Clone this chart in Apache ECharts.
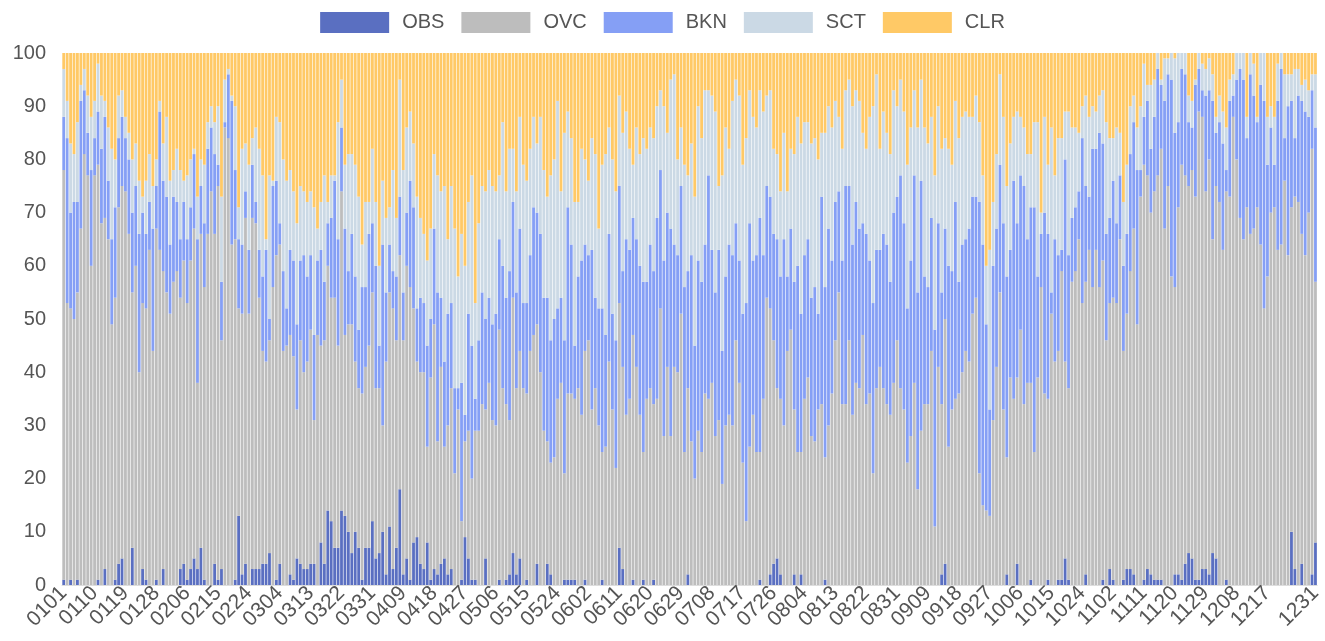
<!DOCTYPE html>
<html><head><meta charset="utf-8">
<script src="https://cdn.jsdelivr.net/npm/echarts@6/dist/echarts.min.js"></script>
<style>html,body{margin:0;padding:0;background:#fff}#c{width:1325px;height:641px}</style>
</head><body><div id="c"></div>
<script>
// categories: every day of a leap year, MMDD
const monthLengths = [31,29,31,30,31,30,31,31,30,31,30,31];
const categories = [];
monthLengths.forEach((n, m) => { for (let d = 1; d <= n; d++) categories.push(String(m+1).padStart(2,'0') + String(d).padStart(2,'0')); });

const seriesNames = ['OBS','OVC','BKN','SCT','CLR'];

const OBS = [
1,0,1,0,1,0,0,0,0,0, 1,0,3,0,0,1,4,5,0,0, 7,0,0,3,1,0,0,1,0,3,
0,0,0,0,3,4,1,3,5,3, 7,1,0,0,4,1,3,0,0,0, 1,13,2,4,0,3,3,3,4,4, 6,
0,1,4,0,0,2,1,5,4,3, 3,4,4,0,8,4,14,12,7,7, 14,13,10,6,10,7,1,7,7,12,
5,6,10,2,11,3,7,18,2,5, 1,8,9,4,3,8,1,3,2,4, 5,2,3,0,0,1,9,5,1,1,
0,0,5,0,0,0,1,0,1,2, 6,2,5,0,1,0,0,4,0,0, 4,2,0,0,0,1,1,1,1,0,
0,1,0,0,0,0,1,0,0,0, 0,7,3,0,0,1,0,0,1,0, 0,1,0,0,0,0,0,0,0,0,
0,2,0,0,0,0,0,0,0,0, 0,0,0,0,0,0,0,0,0,0, 0,0,1,0,0,2,4,5,2,
0,0,0,2,0,2,0,0,0,0, 0,0,1,0,0,0,0,0,0,0, 0,0,0,0,0,0,0,0,0,0, 0,
0,0,0,0,0,0,0,0,0,0, 0,0,0,0,0,2,4,0,0,0, 0,0,0,0,0,0,0,0,0,0,
0,0,0,0,2,0,0,4,0,0, 0,1,0,0,0,0,1,0,0,1, 1,5,1,0,0,0,0,2,0,0,
0,0,1,0,3,1,0,0,1,3, 3,2,0,0,1,3,2,1,1,1, 0,0,0,2,2,1,4,6,5,1,
1,3,3,2,6,5,0,0,1,0, 0,0,0,0,0,0,0,0,0,0, 0,0,0,0,0,0,0,10,3,0, 4,0,0,2,8
];
const OVC = [
77,53,51,50,54,67,81,77,60,77, 78,68,66,65,49,53,67,70,74,66, 48,60,40,50,51,63,44,66,63,56,
55,51,57,59,51,57,52,58,62,35, 59,55,66,74,62,74,43,86,84,64, 64,39,49,65,51,66,65,51,40,38, 40,
56,61,60,44,45,45,42,28,42,37, 39,44,27,47,37,42,46,42,47,38, 60,34,39,43,32,30,35,34,38,43,
32,31,20,40,44,49,39,44,44,55, 55,44,33,36,37,18,38,46,25,37, 21,28,34,21,33,11,18,24,19,28,
29,34,28,38,31,30,47,37,33,29, 48,35,39,37,35,44,47,45,40,29, 23,21,24,35,38,20,35,35,34,37,
32,43,46,33,37,30,24,26,42,33, 22,46,38,32,35,46,41,32,24,35, 37,33,35,52,28,41,28,41,40,51,
25,35,27,20,29,25,36,35,38,28, 31,19,30,32,30,46,38,23,12,26, 32,25,24,35,54,50,42,32,33,
30,44,48,31,25,23,35,39,28,27, 33,34,23,30,36,46,55,34,34,46, 32,38,37,47,34,36,21,37,41,37, 34,
32,38,46,37,33,23,28,38,18,29, 34,34,44,11,41,32,46,26,33,35, 36,40,44,42,51,54,21,15,14,13,
31,41,55,33,22,39,35,35,48,34, 38,37,25,39,56,36,34,51,42,43, 58,37,36,57,59,65,53,55,63,56,
63,56,60,46,50,53,53,65,43,48, 56,65,49,73,78,74,68,73,76,81, 67,75,58,54,69,78,73,69,73,72,
88,85,71,78,59,70,72,63,73,73, 88,80,69,65,71,66,67,71,64,52, 58,70,71,63,64,76,62,61,70,72, 62,62,70,80,49
];
const BKN = [
10,31,18,22,17,24,12,8,18,7, 10,14,19,11,16,17,13,13,10,14, 15,15,26,17,14,9,23,8,26,17,
18,13,16,13,11,11,12,10,14,27, 9,12,16,12,15,4,11,1,12,27, 13,13,13,5,12,10,4,9,14,21, 4,
19,14,4,15,7,16,18,16,15,22, 16,14,16,14,18,11,8,15,22,20, 12,20,10,17,16,11,20,15,21,13,
23,8,34,13,9,7,12,11,9,10, 20,19,10,14,13,19,11,18,28,13, 16,21,16,16,4,26,5,22,25,6,
17,21,17,16,18,21,17,23,20,28, 18,18,23,16,17,18,24,21,26,25, 27,23,26,17,16,25,35,28,10,21,
29,20,16,30,17,22,27,21,24,18, 24,22,18,33,28,22,24,28,32,22, 27,25,34,26,33,29,39,23,22,24,
31,22,35,25,32,32,28,42,25,27, 32,25,28,32,32,22,23,28,41,42, 29,37,44,27,21,21,20,28,23,
35,14,19,24,35,26,27,26,26,29, 18,39,32,37,25,26,19,27,41,29, 32,34,30,21,32,25,32,26,22,29, 30,
25,32,27,40,35,29,33,39,37,47, 24,22,25,37,27,21,17,34,26,37, 21,24,21,25,22,19,51,49,35,20,
29,26,24,35,34,24,41,29,29,41, 27,33,46,19,10,34,31,4,23,18, 4,38,25,12,12,9,31,18,10,26,
19,29,22,20,16,22,15,12,16,15, 22,20,29,5,9,14,12,14,20,12, 24,21,37,29,16,18,19,12,8,21,
8,5,18,13,26,10,15,20,4,18, 4,15,28,30,13,30,25,16,30,39, 21,16,8,28,33,8,28,20,11,20, 25,27,18,11,29
];
const SCT = [
9,7,13,9,15,3,4,7,10,7, 9,10,3,10,17,9,8,5,4,5, 10,8,10,3,10,9,8,5,2,7,
15,12,5,10,13,4,12,9,1,8, 5,11,5,4,6,11,16,8,1,1, 12,6,18,9,16,5,14,19,19,2, 27,
1,12,19,21,24,15,13,19,14,12, 14,12,24,6,9,20,4,8,1,22, 9,12,22,15,21,25,8,16,6,14,
12,15,12,14,7,19,11,22,23,16, 13,12,21,15,13,16,17,14,22,20, 33,14,22,30,21,28,28,21,32,18,
22,20,24,24,26,23,12,27,20,23, 10,19,21,26,23,20,17,13,22,24, 19,31,30,39,20,39,18,20,27,14,
21,16,14,21,27,15,27,34,20,29, 28,17,26,24,19,10,21,21,27,25, 22,25,21,15,29,15,28,32,18,11,
23,18,21,28,29,27,29,16,29,34, 12,33,28,18,29,27,31,28,31,25, 27,24,24,27,17,20,16,16,16,
20,16,15,24,28,32,25,22,29,28, 29,12,29,23,25,19,14,21,18,20, 26,21,24,17,16,27,37,33,19,23, 21,
24,23,17,18,21,27,25,16,31,19, 28,27,19,29,22,27,17,22,20,19, 27,24,24,21,15,19,15,13,11,30,
12,14,17,20,17,20,12,21,11,11, 16,10,16,29,4,18,13,31,12,22, 21,9,27,17,15,11,6,17,15,8,
7,7,10,21,15,8,18,8,12,13, 9,5,8,12,10,3,12,7,3,1, 8,3,5,14,13,3,4,5,5,1,
3,5,5,6,5,3,5,6,8,4, 4,5,3,5,4,4,6,1,6,9, 9,4,9,7,3,12,6,5,13,5, 3,6,5,3,10
];
const CLR = [
3,9,17,19,13,6,3,8,12,9, 2,8,9,14,18,20,8,7,12,15, 20,17,24,27,24,19,25,20,9,17,
12,24,22,18,22,24,23,20,18,27, 20,21,13,10,13,10,27,5,3,8, 10,29,18,17,21,16,14,18,23,35, 23,
24,12,13,20,24,22,26,32,25,26, 28,26,29,33,28,23,28,23,23,13, 5,21,19,19,21,27,36,28,28,18,
28,40,24,31,29,22,31,5,22,14, 11,17,27,31,34,39,33,19,23,26, 25,35,25,33,42,34,40,28,23,47,
32,25,26,22,25,26,23,13,26,18, 18,26,12,21,24,18,12,17,12,22, 27,23,20,9,26,15,11,16,28,28,
18,20,24,16,19,33,21,19,14,20, 26,8,15,11,18,21,14,19,16,18, 14,16,10,7,10,15,5,4,20,14,
21,23,17,27,10,16,7,7,8,11, 25,23,14,18,9,5,8,21,16,7, 12,14,7,11,8,7,18,19,26,
15,26,18,19,12,17,13,13,17,16, 20,15,15,10,14,9,12,18,7,5, 10,7,9,15,18,12,10,4,18,11, 15,
19,7,10,5,11,21,14,7,14,5, 14,17,12,23,10,18,16,18,21,9, 16,12,11,12,12,8,13,23,40,37,
28,19,4,12,25,17,12,11,12,14, 19,19,13,13,30,12,21,14,23,16, 16,11,11,14,14,15,10,8,12,10,
11,8,7,13,16,16,14,15,28,21, 10,8,14,10,2,6,6,5,0,5, 1,1,0,1,0,0,0,8,9,5,
0,2,3,1,4,12,8,11,14,5, 4,0,0,0,12,0,2,12,0,0, 12,10,12,2,0,4,4,4,3,3, 6,5,7,4,4
];

const seriesData = [OBS, OVC, BKN, SCT, CLR];
const colors = ['#5a6fc1', '#bdbdbd', '#859ff5', '#cbd9e5', '#ffc966'];

const chart = echarts.init(document.getElementById('c'), null, {renderer: 'canvas'});
const lastIdx = categories.length - 1;
chart.setOption({
  animation: false,
  color: colors,
  textStyle: { fontFamily: 'Liberation Sans, Arial, sans-serif' },
  legend: {
    top: 7, left: 'center',
    icon: 'rect',
    itemWidth: 69, itemHeight: 21, itemGap: 17,
    textStyle: { fontSize: 20, color: '#555', padding: [0, 0, 0, 8] },
    data: seriesNames
  },
  grid: { left: 62, right: 3, top: 53, bottom: 56, containLabel: false },
  xAxis: {
    type: 'category', data: categories,
    axisTick: { show: false },
    axisLine: { show: true, lineStyle: { color: '#ddd' } },
    axisLabel: {
      rotate: 45, fontSize: 21, color: '#555', margin: 5,
      interval: (i) => (i % 9 === 0 && i <= 351) || i === lastIdx
    }
  },
  yAxis: {
    type: 'value', min: 0, max: 100, interval: 10,
    axisLabel: { fontSize: 20, color: '#555', margin: 16 },
    axisLine: { show: false }, axisTick: { show: false },
    splitLine: { show: false }
  },
  series: seriesNames.map((n, k) => ({
    name: n, type: 'bar', stack: 'total',
    data: seriesData[k],
    barCategoryGap: '18%',
    itemStyle: { color: colors[k] }
  }))
});
</script></body></html>
